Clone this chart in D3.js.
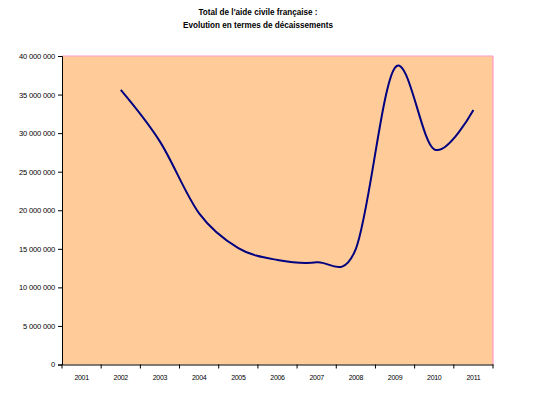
<!DOCTYPE html>
<html><head><meta charset="utf-8">
<script src="https://cdn.jsdelivr.net/npm/d3@7"></script>
<style>body{margin:0;background:#fff}svg{display:block}text{font-family:"Liberation Sans",Arial,sans-serif}</style>
</head><body>
<script>
const years = ["2001","2002","2003","2004","2005","2006","2007","2008","2009","2010","2011"];
const values = [null,35600000,28900000,19600000,15100000,13550000,13250000,15000000,38500000,27900000,33000000];
const yTicks = [0,5000000,10000000,15000000,20000000,25000000,30000000,35000000,40000000];
const titleLines = ["Total de l'aide civile française :","Evolution en termes de décaissements"];

const W=535,H=394;
const m={l:62,r:493,t:56,b:364.5};
const svg=d3.select("body").append("svg").attr("width",W).attr("height",H);

const x=d3.scaleBand().domain(years).range([m.l,m.r]).padding(0);
const y=d3.scaleLinear().domain([0,40000000]).range([m.b,m.t]);

svg.append("rect").attr("x",m.l).attr("y",m.t).attr("width",m.r-m.l).attr("height",m.b-m.t).attr("fill","#FFCC99");
svg.append("line").attr("x1",m.l).attr("x2",m.r).attr("y1",m.t).attr("y2",m.t).attr("stroke","#FF99CC").attr("stroke-width",1.2);
svg.append("line").attr("x1",m.r).attr("x2",m.r).attr("y1",m.t).attr("y2",m.b).attr("stroke","#FF99CC").attr("stroke-width",1.2);

const fmt=d=>d3.format(",")(d).replace(/,/g," ");
const ya=svg.append("g").attr("transform",`translate(${m.l},0)`).call(d3.axisLeft(y).tickValues(yTicks).tickFormat(fmt).tickSize(4).tickPadding(3));
ya.select(".domain").attr("stroke","#000");
ya.selectAll("text").attr("font-size","7.6px").attr("fill","#000").attr("letter-spacing","-0.2px");

const xa=svg.append("g").attr("transform",`translate(0,${m.b})`).call(d3.axisBottom(x).tickSize(0).tickPadding(11));
xa.select(".domain").attr("stroke","#000");
xa.selectAll("text").attr("font-size","7px").attr("fill","#000").attr("letter-spacing","-0.3px");
svg.append("g").selectAll("line").data(years.concat(["end"])).join("line")
  .attr("x1",(d,i)=>m.l+i*x.bandwidth()).attr("x2",(d,i)=>m.l+i*x.bandwidth())
  .attr("y1",m.b).attr("y2",m.b+4).attr("stroke","#000");

const pts=years.map((yr,i)=>({yr,v:values[i]})).filter(d=>d.v!=null);
const line=d3.line().x(d=>x(d.yr)+x.bandwidth()/2).y(d=>y(d.v)).curve(d3.curveCardinal.tension(0));
svg.append("path").datum(pts).attr("d",line).attr("fill","none").attr("stroke","#000080").attr("stroke-width",2);

const tl=[119,150];
svg.append("g").selectAll("text").data(titleLines).join("text")
  .attr("x",258).attr("y",(d,i)=>15+i*13).attr("text-anchor","middle")
  .attr("textLength",(d,i)=>tl[i]).attr("lengthAdjust","spacingAndGlyphs")
  .attr("font-size","9px").attr("font-weight","bold").attr("fill","#000").text(d=>d);
</script>
</body></html>
